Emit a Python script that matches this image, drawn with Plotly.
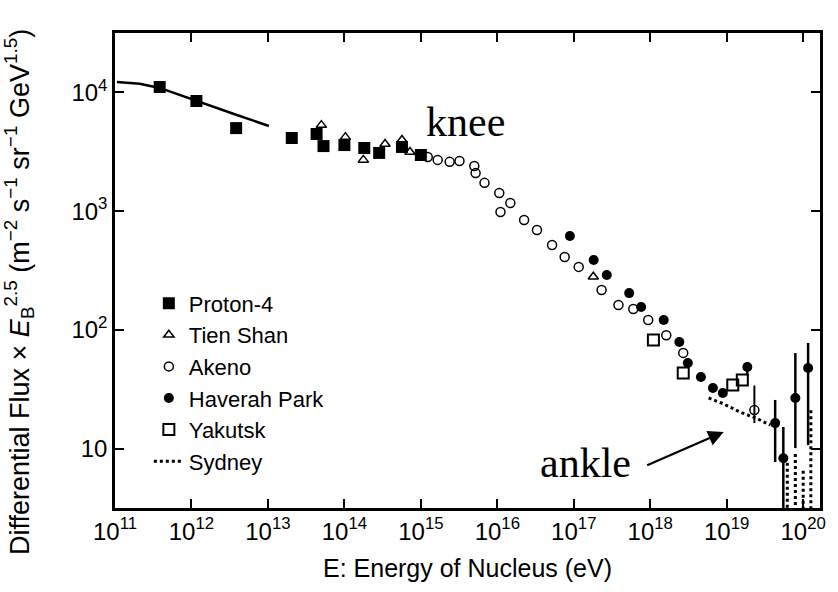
import plotly.graph_objects as go

# ---------------- data ----------------
fit_E = [1.06e11, 2.1e11, 3.84e11, 1.16e12, 3.6e12, 1.03e13]
fit_F = [1.22e4, 1.18e4, 1.09e4, 8.46e3, 6.58e3, 5.21e3]

proton_E = [3.84e11, 1.16e12, 3.84e12, 2.05e13, 4.33e13, 5.33e13, 1.0e14, 1.82e14, 2.85e14, 5.66e14, 1.0e15]
proton_F = [1.11e4, 8.46e3, 5.0e3, 4.13e3, 4.46e3, 3.53e3, 3.6e3, 3.40e3, 3.09e3, 3.47e3, 2.97e3]

tienshan_E = [5.0e13, 1.03e14, 1.77e14, 3.4e14, 5.66e14, 7.2e14, 1.8e17]
tienshan_F = [5.3e3, 4.2e3, 2.7e3, 3.67e3, 3.97e3, 3.15e3, 280]

akeno_E = [1.23e15, 1.66e15, 2.38e15, 3.2e15, 5.0e15, 5.2e15, 6.8e15, 1.06e16, 1.1e16, 1.48e16,
           2.24e16, 3.3e16, 5.2e16, 7.6e16, 1.16e17, 2.31e17, 3.84e17, 6.0e17, 9.4e17, 1.62e18,
           2.7e18, 2.3e19]
akeno_F = [2.86e3, 2.70e3, 2.60e3, 2.64e3, 2.40e3, 2.09e3, 1.73e3, 1.42e3, 984, 1.17e3,
           841, 693, 519, 411, 339, 217, 162, 150, 121, 90,
           64, 21.1]
akeno_hi = [0] * 21 + [12.9]
akeno_lo = [0] * 21 + [4.7]

haverah_E = [8.9e16, 1.82e17, 2.7e17, 5.3e17, 7.6e17, 1.5e18, 2.4e18, 3.1e18, 4.6e18, 6.6e18,
             8.9e18, 1.86e19, 4.3e19, 5.5e19, 7.9e19, 1.16e20]
haverah_F = [618, 387, 290, 204, 156, 121, 79, 52.6, 40.1, 32.4,
             29.4, 48.7, 16.4, 8.3, 26.7, 47.8]
haverah_hi = [0] * 11 + [5.0, 9.3, 6.9, 37.1, 29.8]
haverah_lo = [0] * 11 + [7.2, 8.7, 5.3, 16.6, 37.1]

yakutsk_E = [1.1e18, 2.7e18, 1.2e19, 1.6e19]
yakutsk_F = [82, 43.4, 34.4, 37.9]

sydney_E = [5.8e18, 9.1e18, 1.5e19, 2.4e19, 3.7e19]
sydney_F = [26.7, 23.8, 20.3, 18.1, 15.8]

sydney_bar_E = [6.2e19, 7.9e19, 1.0e20, 1.26e20]
sydney_bar_top = [7.6, 9.0, 6.5, 21.0]
sydney_bar_bot = [3.1, 3.1, 3.1, 3.1]

x_tickvals = [1e11, 1e12, 1e13, 1e14, 1e15, 1e16, 1e17, 1e18, 1e19, 1e20]
x_ticktext = ["10<sup>11</sup>", "10<sup>12</sup>", "10<sup>13</sup>", "10<sup>14</sup>", "10<sup>15</sup>",
              "10<sup>16</sup>", "10<sup>17</sup>", "10<sup>18</sup>", "10<sup>19</sup>", "10<sup>20</sup>"]
y_tickvals = [10, 100, 1000, 10000]
y_ticktext = ["10", "10<sup>2</sup>", "10<sup>3</sup>", "10<sup>4</sup>"]

y_title = ("Differential Flux × <i>E</i><sub>B</sub><sup>2.5</sup> "
           "(m<sup>−2</sup> s<sup>−1</sup> sr<sup>−1</sup> GeV<sup>1.5</sup>)")

# ---------------- figure ----------------
BLACK = "black"
fig = go.Figure()

fig.add_trace(go.Scatter(x=fit_E, y=fit_F, mode="lines", line=dict(color=BLACK, width=2.5),
                         showlegend=False, hoverinfo="skip"))

fig.add_trace(go.Scatter(x=proton_E, y=proton_F, mode="markers", name="Proton-4",
                         marker=dict(symbol="square", size=12, color=BLACK)))
fig.add_trace(go.Scatter(x=tienshan_E, y=tienshan_F, mode="markers", name="Tien Shan",
                         marker=dict(symbol="triangle-up-open", size=9, color=BLACK, line=dict(width=1.5))))
fig.add_trace(go.Scatter(x=akeno_E, y=akeno_F, mode="markers", name="Akeno",
                         marker=dict(symbol="circle-open", size=9, color=BLACK, line=dict(width=1.5)),
                         error_y=dict(type="data", symmetric=False, array=akeno_hi, arrayminus=akeno_lo,
                                      color=BLACK, thickness=2, width=0)))
fig.add_trace(go.Scatter(x=haverah_E, y=haverah_F, mode="markers", name="Haverah Park",
                         marker=dict(symbol="circle", size=10, color=BLACK),
                         error_y=dict(type="data", symmetric=False, array=haverah_hi, arrayminus=haverah_lo,
                                      color=BLACK, thickness=2.5, width=0)))
fig.add_trace(go.Scatter(x=yakutsk_E, y=yakutsk_F, mode="markers", name="Yakutsk",
                         marker=dict(symbol="square-open", size=11, color=BLACK, line=dict(width=2))))
fig.add_trace(go.Scatter(x=sydney_E, y=sydney_F, mode="lines", name="Sydney",
                         line=dict(color=BLACK, width=3, dash="dot")))

# Sydney dotted bars near 1e20
bx, by = [], []
for e, t, b in zip(sydney_bar_E, sydney_bar_top, sydney_bar_bot):
    bx += [e, e, None]
    by += [t, b, None]
fig.add_trace(go.Scatter(x=bx, y=by, mode="lines", line=dict(color=BLACK, width=3, dash="dot"),
                         showlegend=False, hoverinfo="skip"))

fig.update_layout(
    width=838, height=592,
    margin=dict(l=115, r=13, t=33, b=84),
    paper_bgcolor="white", plot_bgcolor="white",
    font=dict(family="Liberation Sans, Arial, sans-serif", color=BLACK, size=22),
    showlegend=True,
    legend=dict(x=0.048, y=0.475, xanchor="left", yanchor="top", bgcolor="rgba(0,0,0,0)",
                font=dict(size=22, color=BLACK), itemwidth=30, borderwidth=0),
    annotations=[
        dict(text=y_title, x=-0.136, y=0.455, xref="paper", yref="paper", showarrow=False,
             textangle=-90, xanchor="center", yanchor="middle",
             font=dict(family="Liberation Sans, Arial, sans-serif", size=27, color=BLACK)),
        dict(text="knee", x=0.497, y=0.812, xref="paper", yref="paper", showarrow=False,
             xanchor="center", yanchor="middle",
             font=dict(family="Liberation Serif, Times New Roman, serif", size=42, color=BLACK)),
        dict(text="ankle", x=0.668, y=0.095, xref="paper", yref="paper", showarrow=False,
             xanchor="center", yanchor="middle",
             font=dict(family="Liberation Serif, Times New Roman, serif", size=42, color=BLACK)),
        dict(text="", x=18.96, y=1.14, xref="x", yref="y", showarrow=True,
             ax=-78, ay=34, axref="pixel", ayref="pixel",
             arrowhead=2, arrowsize=1.4, arrowwidth=2.2, arrowcolor=BLACK),
    ],
)

fig.update_xaxes(type="log", range=[11, 20.22], tickvals=x_tickvals, ticktext=x_ticktext,
                 ticks="inside", ticklen=9, tickwidth=2, tickcolor=BLACK,
                 showline=True, linecolor=BLACK, linewidth=2.5, mirror="ticks",
                 showgrid=False, zeroline=False,
                 tickfont=dict(size=24, color=BLACK),
                 title=dict(text="E: Energy of Nucleus (eV)", font=dict(size=25, color=BLACK), standoff=16))
fig.update_yaxes(type="log", range=[0.5, 4.5], tickvals=y_tickvals, ticktext=y_ticktext,
                 ticks="inside", ticklen=9, tickwidth=2, tickcolor=BLACK,
                 showline=True, linecolor=BLACK, linewidth=2.5, mirror="ticks",
                 showgrid=False, zeroline=False,
                 tickfont=dict(size=24, color=BLACK))

fig.write_html("out.html")
